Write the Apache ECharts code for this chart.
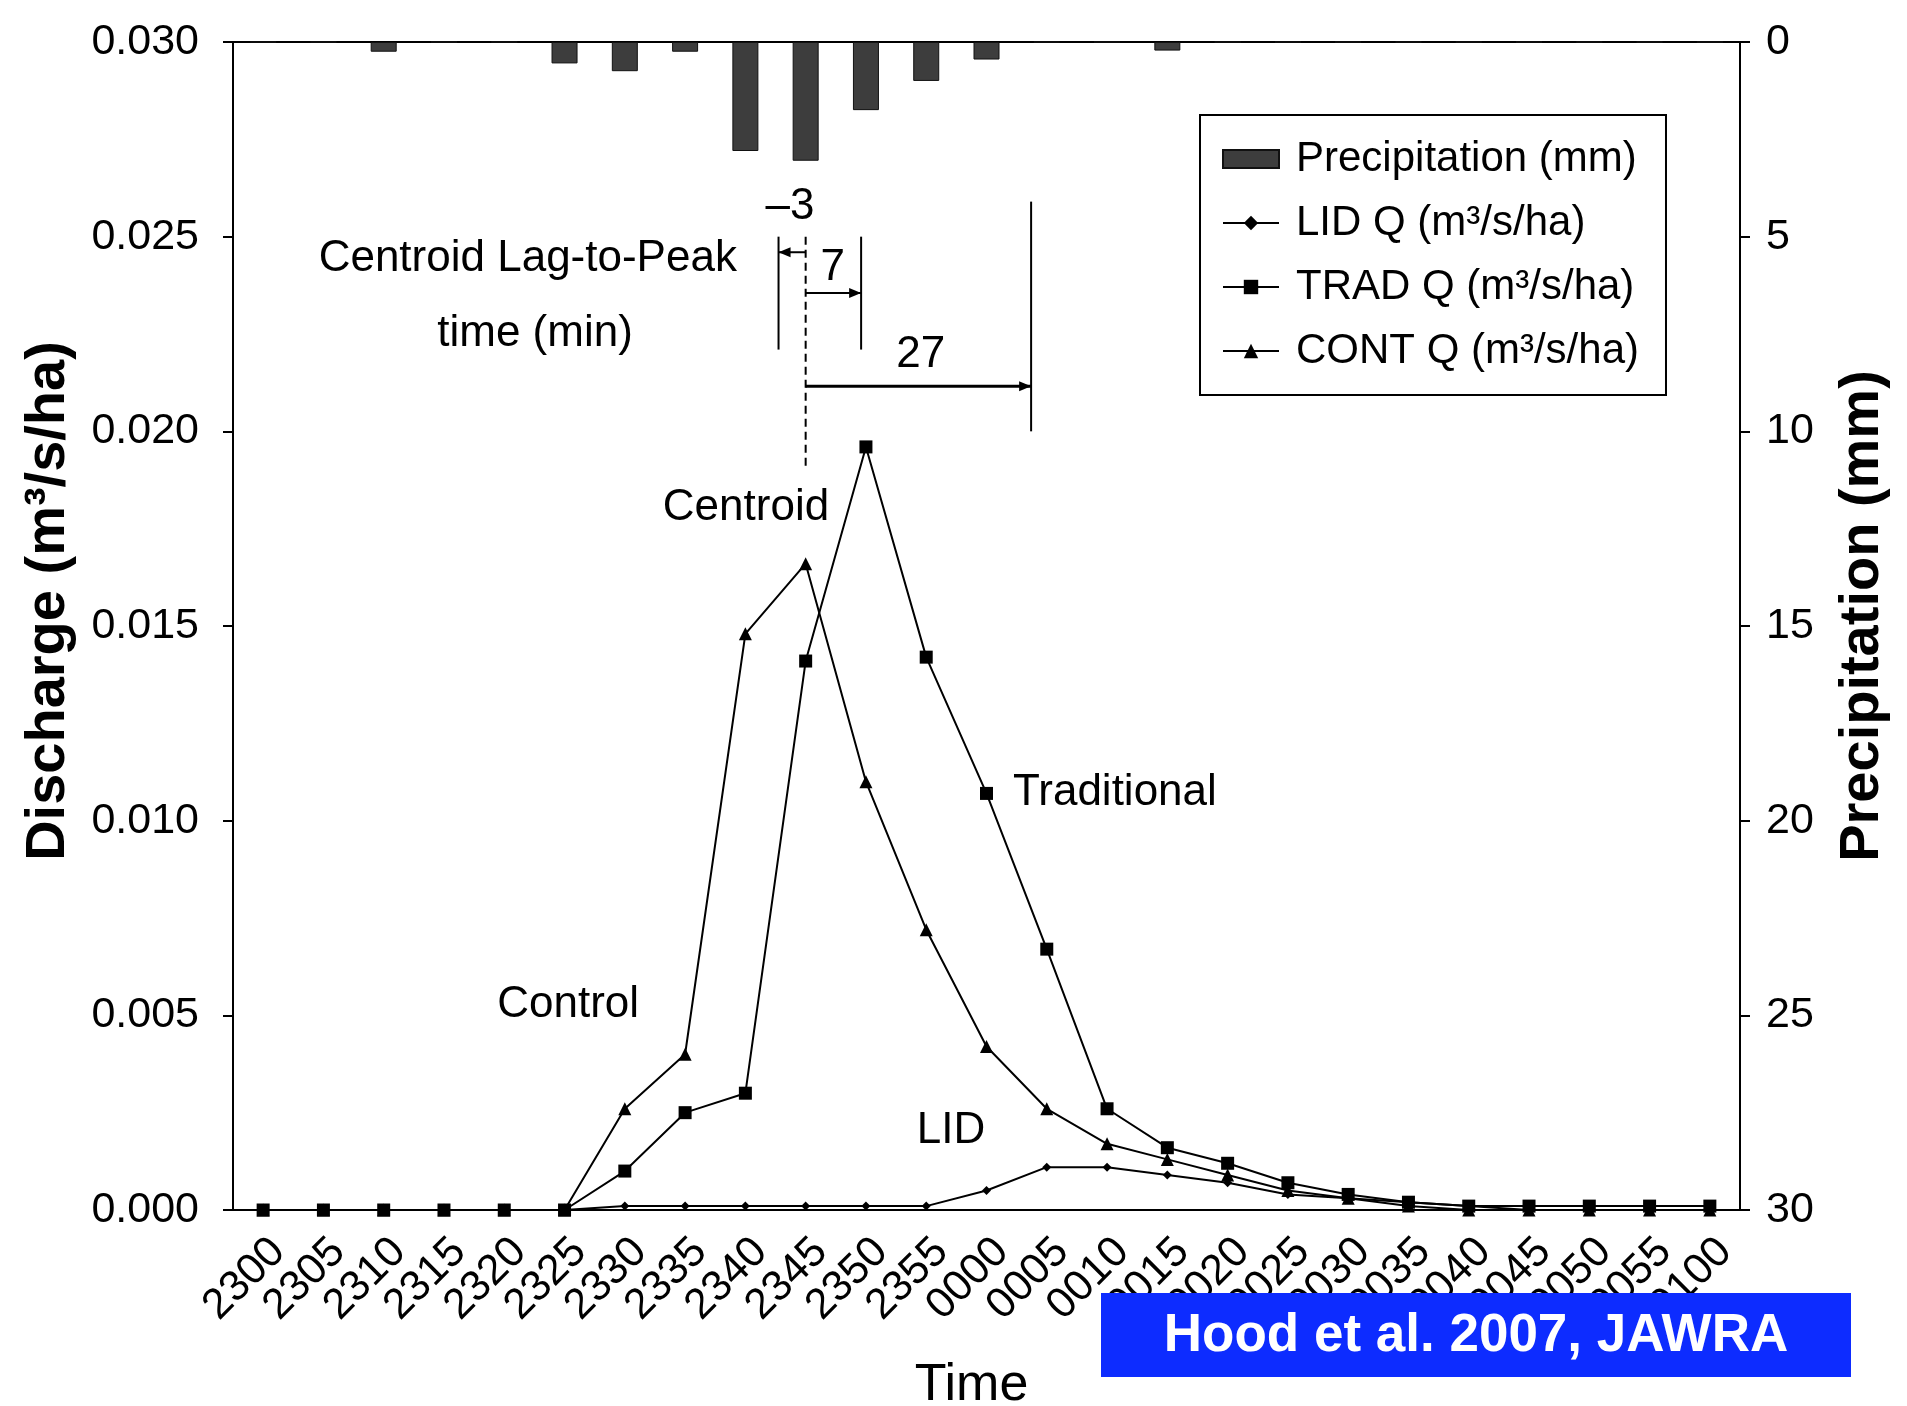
<!DOCTYPE html>
<html>
<head>
<meta charset="utf-8">
<title>Discharge and precipitation</title>
<script src="https://cdn.jsdelivr.net/npm/echarts@6/dist/echarts.min.js"></script>
<style>
  html, body { margin: 0; padding: 0; background: #fff; }
  #chart { width: 1907px; height: 1406px; }
</style>
</head>
<body>
<div id="chart"></div>
<script>
var times = ['2300', '2305', '2310', '2315', '2320', '2325', '2330', '2335', '2340', '2345', '2350', '2355',
             '0000', '0005', '0010', '0015', '0020', '0025', '0030', '0035', '0040', '0045', '0050', '0055', '0100'];

// precipitation per 5 min (mm), right axis
var precip = [0, 0, 0.25, 0, 0, 0.55, 0.75, 0.25, 2.8, 3.05, 1.75, 1.0, 0.45, 0, 0, 0.22, 0, 0, 0, 0, 0, 0, 0, 0, 0];

// discharge (m3/s/ha)
var lidQ  = [0, 0, 0, 0, 0, 0, 0.0001, 0.0001, 0.0001, 0.0001, 0.0001, 0.0001,
             0.0005, 0.0011, 0.0011, 0.0009, 0.0007, 0.0004, 0.0003, 0.0002, 0.0001, 0, 0, 0, 0];
var tradQ = [0, 0, 0, 0, 0, 0, 0.0010, 0.0025, 0.0030, 0.0141, 0.0196, 0.0142,
             0.0107, 0.0067, 0.0026, 0.0016, 0.0012, 0.0007, 0.0004, 0.0002, 0.0001, 0.0001, 0.0001, 0.0001, 0.0001];
var contQ = [0, 0, 0, 0, 0, 0, 0.0026, 0.0040, 0.0148, 0.0166, 0.0110, 0.0072,
             0.0042, 0.0026, 0.0017, 0.0013, 0.0009, 0.0005, 0.0003, 0.0001, 0, 0, 0, 0, 0];

var legendNames = ['Precipitation (mm)', 'LID Q (m³/s/ha)', 'TRAD Q (m³/s/ha)', 'CONT Q (m³/s/ha)'];

// lag-to-peak annotation, in category index / discharge units
var lagLines = [
    { i: 8.55, from: 0.0250, to: 0.0221 },
    { i: 9.92, from: 0.0250, to: 0.0221 },
    { i: 12.74, from: 0.0259, to: 0.0200 }
];
var centroidLine = { i: 9, from: 0.0250, to: 0.0191 };
var lagArrows = [
    { from: 9, to: 8.55, v: 0.0246, w: 2 },
    { from: 9, to: 9.92, v: 0.02355, w: 2 },
    { from: 9, to: 12.74, v: 0.02116, w: 3 }
];
var notes = [
    { text: 'Centroid Lag-to-Peak', i: 4.39, v: 0.02443 },
    { text: 'time (min)', i: 4.51, v: 0.0225 },
    { text: '–3', i: 8.74, v: 0.02576 },
    { text: '7', i: 9.45, v: 0.0242 },
    { text: '27', i: 10.91, v: 0.02196 },
    { text: 'Centroid', i: 8.01, v: 0.01803 },
    { text: 'Traditional', i: 12.44, v: 0.01071, align: 'left' },
    { text: 'Control', i: 5.06, v: 0.00527 },
    { text: 'LID', i: 11.41, v: 0.00203 }
];

var FONT = '"Liberation Sans", Arial, Helvetica, sans-serif';
var chart = echarts.init(document.getElementById('chart'));

var lineSeries = function (name, data, symbol, size) {
    return {
        name: name,
        type: 'line',
        data: data,
        symbol: symbol,
        symbolSize: size,
        z: 3,
        lineStyle: { color: '#000', width: 2 },
        itemStyle: { color: '#000' }
    };
};

var option = {
    animation: false,
    backgroundColor: '#fff',
    textStyle: { fontFamily: FONT, color: '#000' },
    grid: {
        left: 233, right: 167, top: 42, bottom: 196,
        outerBoundsMode: 'none',
        show: true, borderColor: '#000', borderWidth: 2, backgroundColor: 'transparent'
    },
    legend: {
        orient: 'vertical',
        left: 1200, top: 115,
        padding: [23, 27, 23, 22],
        borderColor: '#000', borderWidth: 2,
        backgroundColor: '#fff',
        itemWidth: 56, itemHeight: 18, itemGap: 22,
        textStyle: { fontFamily: FONT, fontSize: 42, color: '#000', padding: [0, 0, 0, 12] },
        data: [
            { name: legendNames[0], icon: 'rect' },
            legendNames[1], legendNames[2], legendNames[3]
        ]
    },
    xAxis: {
        type: 'category',
        data: times,
        boundaryGap: true,
        name: 'Time',
        nameLocation: 'middle',
        nameGap: 150,
        nameTextStyle: { fontSize: 52, color: '#000', padding: [0, 30, 0, 0] },
        axisLine: { lineStyle: { color: '#000', width: 2 } },
        axisTick: { length: 10, lineStyle: { color: '#000', width: 2 } },
        axisLabel: {
            rotate: 45, interval: 0, fontSize: 43, color: '#000',
            margin: 20, verticalAlign: 'top'
        },
        splitLine: { show: false }
    },
    yAxis: [
        {
            type: 'value', min: 0, max: 0.03, interval: 0.005, position: 'left',
            name: 'Discharge (m³/s/ha)',
            nameLocation: 'middle', nameGap: 156, nameRotate: 90,
            nameTextStyle: { fontSize: 56, fontWeight: 'bold', color: '#000', padding: [0, 0, 0, 50] },
            axisLine: { show: true, lineStyle: { color: '#000', width: 2 } },
            axisTick: { show: true, length: 10, lineStyle: { color: '#000', width: 2 } },
            axisLabel: {
                fontSize: 43, color: '#000', margin: 34,
                formatter: function (v) { return v.toFixed(3); }
            },
            splitLine: { show: false }
        },
        {
            type: 'value', min: 0, max: 30, interval: 5, inverse: true, position: 'right',
            name: 'Precipitation (mm)',
            nameLocation: 'middle', nameGap: 95, nameRotate: 90,
            nameTextStyle: { fontSize: 56, fontWeight: 'bold', color: '#000', padding: [0, 0, 0, 20] },
            axisLine: { show: true, lineStyle: { color: '#000', width: 2 } },
            axisTick: { show: true, length: 10, lineStyle: { color: '#000', width: 2 } },
            axisLabel: { fontSize: 43, color: '#000', margin: 26 },
            splitLine: { show: false }
        }
    ],
    series: [
        {
            name: legendNames[0],
            type: 'bar',
            yAxisIndex: 1,
            data: precip,
            barWidth: 26,
            z: 2,
            itemStyle: { color: '#3d3d3d', borderColor: '#111', borderWidth: 1 }
        },
        lineSeries(legendNames[1], lidQ, 'diamond', 9),
        lineSeries(legendNames[3], contQ, 'triangle', 13),
        lineSeries(legendNames[2], tradQ, 'rect', 13)
    ]
};

chart.setOption(option);

// annotation goes through the axes so it stays on the data
var x0 = chart.convertToPixel({ xAxisIndex: 0 }, times[0]);
var x1 = chart.convertToPixel({ xAxisIndex: 0 }, times[1]);
var px = function (i) { return x0 + i * (x1 - x0); };
var py = function (v) { return chart.convertToPixel({ yAxisIndex: 0 }, v); };

var graphics = [];
lagLines.forEach(function (l) {
    graphics.push({
        type: 'line', z: 10,
        shape: { x1: px(l.i), y1: py(l.from), x2: px(l.i), y2: py(l.to) },
        style: { stroke: '#000', lineWidth: 2 }
    });
});
graphics.push({
    type: 'line', z: 10,
    shape: { x1: px(centroidLine.i), y1: py(centroidLine.from), x2: px(centroidLine.i), y2: py(centroidLine.to) },
    style: { stroke: '#000', lineWidth: 2, lineDash: [8, 5] }
});
lagArrows.forEach(function (a) {
    var xs = px(a.from), xe = px(a.to), y = py(a.v);
    var dir = xe > xs ? 1 : -1;
    graphics.push({
        type: 'line', z: 10,
        shape: { x1: xs, y1: y, x2: xe, y2: y },
        style: { stroke: '#000', lineWidth: a.w }
    });
    graphics.push({
        type: 'polygon', z: 10,
        shape: { points: [[xe, y], [xe - dir * 12, y - 5], [xe - dir * 12, y + 5]] },
        style: { fill: '#000' }
    });
});
notes.forEach(function (n) {
    graphics.push({
        type: 'text', z: 10,
        style: {
            text: n.text, x: px(n.i), y: py(n.v),
            font: '44px ' + FONT, fill: '#000',
            align: n.align || 'center', verticalAlign: 'middle',
            textAlign: n.align || 'center', textVerticalAlign: 'middle'
        }
    });
});

// source caption
graphics.push({
    type: 'rect', z: 20,
    shape: { x: 1101, y: 1293, width: 750, height: 84 },
    style: { fill: '#0d2cff' }
});
graphics.push({
    type: 'text', z: 21,
    style: {
        text: 'Hood et al. 2007, JAWRA', x: 1476, y: 1336,
        font: 'bold 53px ' + FONT, fill: '#fff',
        align: 'center', verticalAlign: 'middle',
        textAlign: 'center', textVerticalAlign: 'middle'
    }
});

chart.setOption({ graphic: graphics });
</script>
</body>
</html>
